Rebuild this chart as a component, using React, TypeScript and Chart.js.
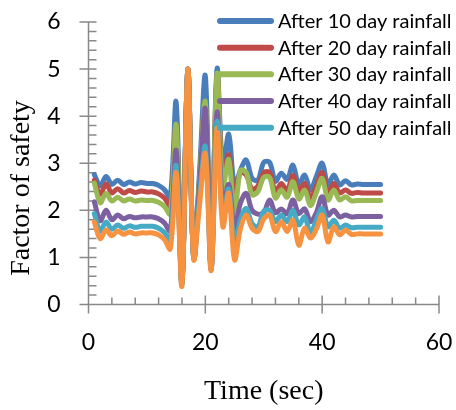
import React, { useEffect, useRef } from "react";
import { Chart, registerables } from "chart.js";

Chart.register(...registerables);

// ---- data ----
const time = [
  1, 2, 3, 4, 5, 6, 7, 8, 9, 10, 11, 12, 13, 14, 15, 16, 17, 18, 19, 20, 21, 22, 23, 24, 25,
  26, 27, 28, 29, 30, 31, 32, 33, 34, 35, 36, 37, 38, 39, 40, 41, 42, 43, 44, 45, 46, 47, 48, 49, 50,
];

const after10 = [
  2.76, 2.52, 2.72, 2.55, 2.64, 2.55, 2.6, 2.56, 2.59, 2.57, 2.57, 2.53, 2.44, 2.28,
  4.3, 0.5, 5.0, 1.0, 2.8, 4.85, 0.8, 5.0, 2.9, 3.62, 2.5,
  2.85, 3.07, 2.68, 2.64, 3.02, 3.02, 2.62, 2.79, 2.66, 2.96, 2.54, 2.75, 2.43, 2.72, 3.0,
  2.54, 2.75, 2.54, 2.63, 2.54, 2.56, 2.55, 2.55, 2.55, 2.55,
];
const after20 = [
  2.64, 2.34, 2.56, 2.37, 2.46, 2.37, 2.42, 2.38, 2.41, 2.39, 2.39, 2.35, 2.26, 2.1,
  3.8, 0.48, 5.0, 1.0, 2.65, 4.28, 0.78, 4.85, 2.7, 3.18, 2.3,
  2.8, 2.75, 2.45, 2.52, 2.8, 2.8, 2.4, 2.57, 2.42, 2.74, 2.38, 2.57, 2.25, 2.52, 2.8,
  2.36, 2.57, 2.37, 2.43, 2.36, 2.38, 2.37, 2.37, 2.37, 2.37,
];
const after30 = [
  2.58, 2.16, 2.36, 2.2, 2.28, 2.2, 2.24, 2.2, 2.22, 2.21, 2.21, 2.17, 2.08, 1.92,
  3.82, 0.47, 5.0, 1.0, 2.6, 4.3, 0.77, 4.9, 2.5, 3.08, 1.9,
  2.85, 2.8, 2.33, 2.4, 2.7, 2.7, 2.26, 2.43, 2.28, 2.61, 2.24, 2.43, 2.1, 2.38, 2.68,
  2.22, 2.43, 2.22, 2.29, 2.2, 2.21, 2.21, 2.21, 2.21, 2.21,
];
const after40 = [
  2.18, 1.78, 2.0, 1.8, 1.9, 1.82, 1.87, 1.84, 1.86, 1.86, 1.86, 1.82, 1.73, 1.56,
  3.27, 0.45, 5.0, 1.0, 2.5, 4.15, 0.75, 4.08, 2.1, 2.55, 1.6,
  2.15, 2.36, 2.0, 1.92, 1.95, 2.22, 1.95, 2.03, 1.93, 2.22, 1.93, 2.03, 1.76, 1.95, 2.29,
  1.9, 2.0, 1.86, 1.9, 1.86, 1.87, 1.87, 1.87, 1.87, 1.87,
];
const after50 = [
  1.93, 1.56, 1.75, 1.6, 1.69, 1.62, 1.67, 1.64, 1.66, 1.66, 1.66, 1.62, 1.53, 1.36,
  2.95, 0.43, 5.0, 1.0, 2.25, 3.35, 0.74, 3.88, 1.85, 2.45, 1.25,
  1.8, 2.04, 1.72, 1.65, 1.98, 2.0, 1.76, 1.9, 1.76, 2.0, 1.69, 1.86, 1.51, 1.8, 2.04,
  1.65, 1.79, 1.62, 1.69, 1.63, 1.64, 1.64, 1.64, 1.64, 1.64,
];
const after60 = [
  1.75, 1.4, 1.58, 1.46, 1.56, 1.49, 1.54, 1.5, 1.52, 1.52, 1.52, 1.48, 1.38, 1.18,
  2.8, 0.4, 5.0, 0.97, 2.1, 3.2, 0.72, 3.74, 1.65, 2.36, 0.95,
  1.6, 1.9, 1.62, 1.55, 1.82, 1.9, 1.55, 1.76, 1.55, 1.79, 1.26, 1.62, 1.41, 1.6, 1.9,
  1.33, 1.65, 1.48, 1.58, 1.49, 1.5, 1.5, 1.5, 1.5, 1.5,
];

const seriesNames = [
  "After 10 day rainfall",
  "After 20 day rainfall",
  "After 30 day rainfall",
  "After 40 day rainfall",
  "After 50 day rainfall",
  "After 60 day rainfall",
];
const seriesValues = [after10, after20, after30, after40, after50, after60];
const seriesColors = ["#4A7EBB", "#BE4B48", "#98B954", "#7D60A0", "#46AAC5", "#F69240"];
const legendCount = 5;

const xTickValues = [0, 20, 40, 60];
const yTickValues = [0, 1, 2, 3, 4, 5, 6];
const xTitle = "Time (sec)";
const yTitle = "Factor of safety";

const AXIS_COLOR = "#898989";

const excelPlugin = {
  id: "excelLook",
  beforeDatasetsDraw(chart: any) {
    const { ctx, scales } = chart;
    const x = scales.x;
    const y = scales.y;
    const x0 = x.getPixelForValue(x.min);
    const x1 = x.getPixelForValue(x.max);
    const y0 = y.getPixelForValue(y.min);
    const y1 = y.getPixelForValue(y.max);
    ctx.save();
    ctx.strokeStyle = AXIS_COLOR;
    ctx.lineWidth = 1.5;
    ctx.beginPath();
    ctx.moveTo(x0, y1);
    ctx.lineTo(x0, y0);
    ctx.lineTo(x1, y0);
    // y ticks: major every 1, minor every 0.2
    const yMinorCount = (y.max - y.min) * 5;
    for (let i = 0; i <= yMinorCount; i++) {
      const v = y.min + i * 0.2;
      const py = y.getPixelForValue(v);
      const major = i % 5 === 0;
      ctx.moveTo(major ? x0 - 9 : x0, py);
      ctx.lineTo(x0 + 8, py);
    }
    // x ticks: major every 20, minor every 4
    const xMinorCount = (x.max - x.min) / 4;
    for (let i = 0; i <= xMinorCount; i++) {
      const v = x.min + i * 4;
      const px = x.getPixelForValue(v);
      const major = i % 5 === 0;
      ctx.moveTo(px, major ? y0 + 9 : y0);
      ctx.lineTo(px, y0 - (major ? 9 : 7));
    }
    ctx.stroke();
    ctx.restore();
  },
  afterDraw(chart: any) {
    const { ctx } = chart;
    ctx.save();
    // legend
    const lx0 = 220;
    const lx1 = 271;
    const tx = 278;
    const ly0 = 21;
    const step = 26.67;
    ctx.font = '20px Lato';
    ctx.textBaseline = "middle";
    ctx.textAlign = "left";
    ctx.lineCap = "round";
    for (let i = 0; i < legendCount; i++) {
      const ly = ly0 + i * step;
      ctx.strokeStyle = seriesColors[i];
      ctx.lineWidth = 6;
      ctx.beginPath();
      ctx.moveTo(lx0, ly);
      ctx.lineTo(lx1, ly);
      ctx.stroke();
      ctx.fillStyle = "#000";
      ctx.fillText(seriesNames[i], tx, ly + 0.5);
    }
    // y title
    ctx.translate(22, 188);
    ctx.rotate(-Math.PI / 2);
    ctx.font = '28px "Liberation Serif"';
    ctx.textAlign = "center";
    ctx.textBaseline = "middle";
    ctx.fillStyle = "#000";
    ctx.fillText(yTitle, 0, 0);
    ctx.restore();
  },
};

export default function App() {
  const canvasRef = useRef<HTMLCanvasElement | null>(null);

  useEffect(() => {
    let chart: Chart | null = null;
    let cancelled = false;
    const make = () => {
      if (cancelled || !canvasRef.current) return;
      chart = new Chart(canvasRef.current, {
        type: "line",
        data: {
          datasets: seriesValues.map((vals, i) => ({
            label: seriesNames[i],
            data: time.map((t, k) => ({ x: t, y: vals[k] })),
            borderColor: seriesColors[i],
            backgroundColor: seriesColors[i],
            borderWidth: 5,
            pointRadius: 0,
            pointHoverRadius: 0,
            tension: 0.35,
            borderCapStyle: "round",
            borderJoinStyle: "round",
            fill: false,
            order: -i,
          })),
        },
        options: {
          animation: false,
          responsive: false,
          devicePixelRatio: 1,
          layout: { padding: { top: 22, right: 17, left: 0, bottom: 0 } },
          plugins: {
            legend: { display: false },
            tooltip: { enabled: false },
          },
          scales: {
            x: {
              type: "linear",
              min: 0,
              max: 60,
              afterBuildTicks: (scale: any) => {
                scale.ticks = xTickValues.map((v) => ({ value: v }));
              },
              afterFit: (scale: any) => {
                scale.height = 105.5;
              },
              grid: { display: false, drawTicks: true, tickLength: 24 },
              border: { display: false },
              ticks: {
                padding: 0,
                color: "#000",
                font: { family: "Lato", size: 23 },
                maxRotation: 0,
              },
              title: {
                display: true,
                text: xTitle,
                color: "#000",
                font: { family: '"Liberation Serif"', size: 28 },
                padding: { top: 0, bottom: 2 },
              },
            },
            y: {
              type: "linear",
              min: 0,
              max: 6,
              afterBuildTicks: (scale: any) => {
                scale.ticks = yTickValues.map((v) => ({ value: v }));
              },
              afterFit: (scale: any) => {
                scale.width = 88.5;
              },
              grid: { display: false, drawTicks: true, tickLength: 28 },
              border: { display: false },
              ticks: {
                padding: 0,
                color: "#000",
                font: { family: "Lato", size: 23 },
              },
            },
          },
        },
        plugins: [excelPlugin],
      } as any);
    };
    const fonts = (document as any).fonts;
    if (fonts && fonts.load) {
      Promise.all([
        fonts.load('23px Lato'),
        fonts.load('20px Lato'),
        fonts.load('28px "Liberation Serif"'),
      ])
        .catch(() => undefined)
        .then(make);
    } else {
      make();
    }
    return () => {
      cancelled = true;
      if (chart) chart.destroy();
    };
  }, []);

  return (
    <div style={{ position: "fixed", left: 0, top: 0, width: 456, height: 410, background: "#fff" }}>
      <canvas ref={canvasRef} width={456} height={410} style={{ display: "block" }} />
    </div>
  );
}
